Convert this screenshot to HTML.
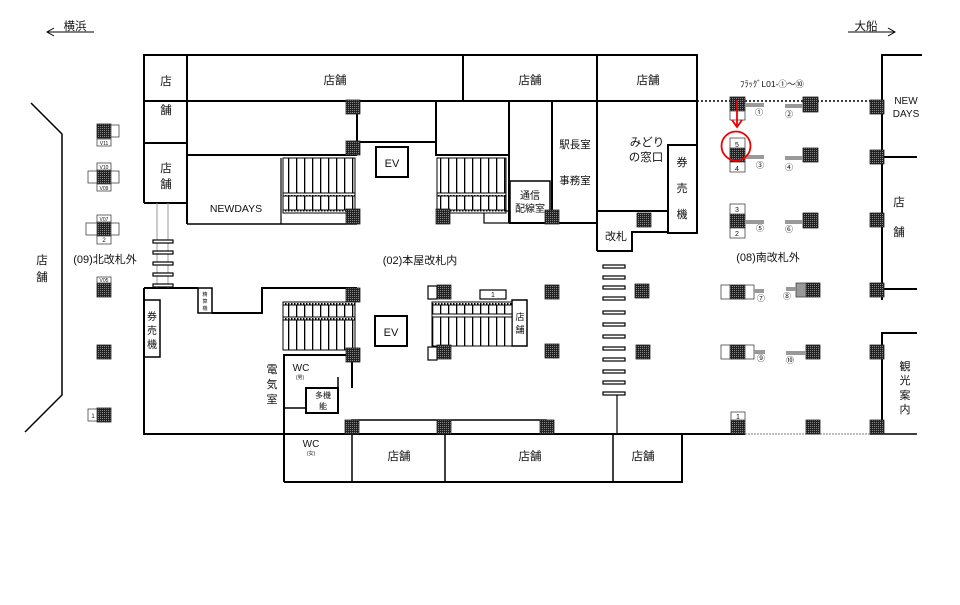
<!DOCTYPE html>
<html><head><meta charset="utf-8"><style>
html,body{margin:0;padding:0;background:#fff}
svg{display:block}
text{font-family:"Liberation Sans","Noto Sans CJK JP",sans-serif;fill:#111}
</style></head><body>
<svg width="960" height="605" viewBox="0 0 960 605" xmlns="http://www.w3.org/2000/svg">
<defs>
<pattern id="pl" width="2" height="2" patternUnits="userSpaceOnUse"><rect width="2" height="2" fill="#222"/><rect width="1" height="1" fill="#888"/></pattern>
<pattern id="st" width="8" height="10" patternUnits="userSpaceOnUse"><rect width="8" height="10" fill="#fff"/><rect x="0" width="1.3" height="10" fill="#000"/></pattern>
<pattern id="dt" width="3" height="3" patternUnits="userSpaceOnUse"><rect width="3" height="3" fill="#fff"/><rect width="1.5" height="1.5" fill="#000"/></pattern>
</defs>
<g stroke="#000" fill="none" stroke-width="2">
<!-- arrows top -->
<line x1="47" y1="32" x2="94" y2="32" stroke-width="1"/><polyline points="54,28 47,32 54,36" stroke-width="1"/>
<line x1="848" y1="32" x2="895" y2="32" stroke-width="1"/><polyline points="888,28 895,32 888,36" stroke-width="1"/>
<!-- left boundary -->
<polyline points="31,103 62,134 62,395 25,432" stroke-width="1.5"/>
<!-- main upper -->
<rect x="144" y="55" width="553" height="46" />
<line x1="144" y1="101" x2="144" y2="203"/>
<line x1="187" y1="55" x2="187" y2="224"/>
<line x1="144" y1="143" x2="187" y2="143"/>
<line x1="144" y1="203" x2="187" y2="203"/>
<line x1="463" y1="55" x2="463" y2="101"/>
<line x1="597" y1="55" x2="597" y2="251"/>
<line x1="697" y1="101" x2="697" y2="233"/>
<line x1="187" y1="155" x2="357" y2="155"/>
<line x1="357" y1="101" x2="357" y2="142"/>
<line x1="357" y1="142" x2="436" y2="142"/>
<rect x="436" y="101" width="73" height="54"/>
<line x1="509" y1="101" x2="509" y2="223"/>
<line x1="552" y1="101" x2="552" y2="223"/>
<line x1="509" y1="223" x2="597" y2="223"/>
<rect x="510" y="181" width="40" height="42" stroke-width="1.5"/>
<rect x="484" y="211" width="26" height="12" stroke-width="1.2"/>
<line x1="187" y1="224" x2="357" y2="224" stroke-width="1.5"/>
<line x1="281" y1="158" x2="281" y2="224" stroke-width="1.2"/>
<!-- right upper boxes -->
<line x1="597" y1="211" x2="668" y2="211"/>
<rect x="668" y="145" width="29" height="88"/>
<polyline points="668,232 632,232 632,251 597,251"/>
<line x1="697" y1="101" x2="880" y2="101" stroke-dasharray="2,2" stroke-width="1.5"/>
<!-- right building -->
<polyline points="922,55 882,55 882,300"/>
<line x1="882" y1="157" x2="917" y2="157"/>
<line x1="882" y1="289" x2="917" y2="289"/>
<polyline points="917,333 882,333 882,434"/>
<!-- lower main -->
<polyline points="144,288 144,434 284,434"/>
<polyline points="144,288 198,288"/>
<rect x="198" y="288" width="14" height="25" stroke-width="1.5"/>
<polyline points="212,313 262,313 262,288 357,288"/>
<rect x="144" y="300" width="16" height="57" stroke-width="1.5"/>
<!-- stairs between -->
<line x1="157" y1="203" x2="157" y2="288" stroke="#999" stroke-width="1"/>
<line x1="168" y1="203" x2="168" y2="288" stroke="#999" stroke-width="1"/>
<!-- WC -->
<polyline points="284,482 284,355 357,355"/>
<line x1="352" y1="355" x2="352" y2="388"/>
<rect x="306" y="388" width="32" height="25"/>
<line x1="338" y1="377" x2="338" y2="388" stroke-width="1.5"/>
<line x1="284" y1="408" x2="306" y2="408" stroke-width="1.5"/>
<polyline points="284,482 682,482 682,434"/>
<line x1="352" y1="434" x2="352" y2="482" stroke-width="1.5"/>
<line x1="445" y1="434" x2="445" y2="482" stroke-width="1.5"/>
<line x1="613" y1="434" x2="613" y2="482" stroke-width="1.5"/>
<line x1="284" y1="434" x2="745" y2="434"/>
<line x1="745" y1="434" x2="870" y2="434" stroke-dasharray="2,1" stroke="#aaa" stroke-width="1.5"/>
<line x1="870" y1="434" x2="917" y2="434" stroke-width="1.5"/>
<rect x="352" y="420" width="194" height="14" stroke-width="1.5"/>
<line x1="617" y1="394" x2="617" y2="434" stroke-width="1.2"/>
<!-- EVs -->
<rect x="376" y="147" width="32" height="30"/>
<rect x="375" y="316" width="32" height="30"/>
<!-- right escalator lower-mid -->
<rect x="512" y="300" width="15" height="46" stroke-width="1.5"/>
<rect x="480" y="290" width="26" height="9" stroke-width="1.2"/>
<rect x="428" y="286" width="9" height="13" stroke-width="1.2"/>
<rect x="428" y="347" width="9" height="13" stroke-width="1.2"/>
</g>
<!-- stair bars left -->
<g fill="#fff" stroke="#000" stroke-width="1.2">
<rect x="153" y="240" width="20" height="3"/><rect x="153" y="251" width="20" height="3"/><rect x="153" y="262" width="20" height="3"/><rect x="153" y="273" width="20" height="3"/><rect x="153" y="284" width="20" height="3"/>
<rect x="603" y="265" width="22" height="3"/><rect x="603" y="276" width="22" height="3"/><rect x="603" y="286" width="22" height="3"/><rect x="603" y="297" width="22" height="3"/><rect x="603" y="311" width="22" height="3"/><rect x="603" y="323" width="22" height="3"/><rect x="603" y="335" width="22" height="3"/><rect x="603" y="347" width="22" height="3"/><rect x="603" y="358" width="22" height="3"/><rect x="603" y="370" width="22" height="3"/><rect x="603" y="381" width="22" height="3"/><rect x="603" y="392" width="22" height="3"/>
</g>
<!-- escalators -->
<g stroke="#000" stroke-width="1">
<rect x="283" y="158" width="72" height="35" fill="url(#st)"/>
<rect x="283" y="193" width="72" height="3" fill="url(#dt)"/>
<rect x="283" y="196" width="72" height="14" fill="url(#st)"/>
<rect x="283" y="210" width="72" height="3" fill="url(#dt)"/>
<rect x="437" y="158" width="69" height="35" fill="url(#st)"/>
<rect x="437" y="193" width="69" height="3" fill="url(#dt)"/>
<rect x="437" y="196" width="69" height="14" fill="url(#st)"/>
<rect x="437" y="210" width="69" height="3" fill="url(#dt)"/>
<rect x="283" y="302" width="72" height="3" fill="url(#dt)"/>
<rect x="283" y="305" width="72" height="12" fill="url(#st)"/>
<rect x="283" y="317" width="72" height="3" fill="url(#dt)"/>
<rect x="283" y="320" width="72" height="30" fill="url(#st)"/>
<rect x="432" y="302" width="80" height="3" fill="url(#dt)"/>
<rect x="432" y="305" width="80" height="9" fill="url(#st)"/>
<rect x="432" y="314" width="80" height="3" fill="#fff"/>
<rect x="432" y="317" width="80" height="29" fill="url(#st)"/>
</g>
<!-- pillars -->
<g fill="url(#pl)" stroke="#222" stroke-width="0.8">
<rect x="97" y="124" width="14" height="14"/><rect x="97" y="170" width="14" height="14"/><rect x="97" y="222" width="14" height="14"/><rect x="97" y="283" width="14" height="14"/><rect x="97" y="345" width="14" height="14"/><rect x="97" y="408" width="14" height="14"/>
<rect x="346" y="100" width="14" height="14"/><rect x="346" y="141" width="14" height="14"/><rect x="346" y="209" width="14" height="15"/><rect x="436" y="209" width="14" height="15"/><rect x="545" y="210" width="14" height="14"/><rect x="637" y="213" width="14" height="14"/>
<rect x="346" y="288" width="14" height="14"/><rect x="346" y="348" width="14" height="14"/><rect x="345" y="420" width="14" height="14"/><rect x="437" y="420" width="14" height="14"/><rect x="540" y="420" width="14" height="14"/>
<rect x="545" y="285" width="14" height="14"/><rect x="545" y="344" width="14" height="14"/><rect x="635" y="284" width="14" height="14"/><rect x="636" y="345" width="14" height="14"/><rect x="437" y="285" width="14" height="14"/><rect x="437" y="345" width="14" height="14"/>
<rect x="730" y="97" width="15" height="14"/><rect x="803" y="97" width="15" height="15"/><rect x="870" y="100" width="14" height="14"/><rect x="870" y="150" width="14" height="14"/><rect x="730" y="148" width="15" height="14"/><rect x="803" y="148" width="15" height="14"/><rect x="730" y="214" width="15" height="14"/><rect x="803" y="213" width="15" height="15"/><rect x="870" y="213" width="14" height="14"/>
<rect x="730" y="285" width="15" height="14"/><rect x="806" y="283" width="14" height="14"/><rect x="870" y="283" width="14" height="14"/><rect x="730" y="345" width="15" height="14"/><rect x="806" y="345" width="14" height="14"/><rect x="870" y="345" width="14" height="14"/><rect x="731" y="420" width="14" height="14"/><rect x="806" y="420" width="14" height="14"/><rect x="870" y="420" width="14" height="14"/>
</g>
<!-- label boxes -->
<g fill="#fff" stroke="#444" stroke-width="0.8">
<rect x="111" y="125" width="8" height="12"/><rect x="97" y="139" width="14" height="7"/>
<rect x="97" y="163" width="14" height="7"/><rect x="97" y="184" width="14" height="7"/><rect x="88" y="171" width="9" height="12"/><rect x="111" y="171" width="8" height="12"/>
<rect x="97" y="215" width="14" height="7"/><rect x="97" y="236" width="14" height="8"/><rect x="86" y="223" width="11" height="12"/><rect x="111" y="223" width="8" height="12"/>
<rect x="97" y="277" width="14" height="6"/><rect x="88" y="409" width="9" height="12"/>
<rect x="730" y="111" width="15" height="9"/><rect x="730" y="138" width="15" height="10"/><rect x="730" y="162" width="15" height="10"/><rect x="730" y="204" width="15" height="10"/><rect x="730" y="228" width="15" height="10"/><rect x="731" y="412" width="14" height="8"/>
<rect x="721" y="285" width="9" height="14"/><rect x="745" y="285" width="9" height="14"/><rect x="796" y="283" width="10" height="14" fill="#999"/>
<rect x="721" y="345" width="9" height="14"/><rect x="745" y="345" width="9" height="14"/>
</g>
<!-- flags -->
<g stroke="#999" stroke-width="4">
<line x1="745" y1="105" x2="764" y2="105"/><line x1="785" y1="106" x2="803" y2="106"/>
<line x1="745" y1="157" x2="764" y2="157"/><line x1="785" y1="158" x2="803" y2="158"/>
<line x1="745" y1="222" x2="764" y2="222"/><line x1="785" y1="222" x2="803" y2="222"/>
<line x1="754" y1="291" x2="764" y2="291"/><line x1="786" y1="289" x2="796" y2="289"/>
<line x1="754" y1="352" x2="765" y2="352"/><line x1="786" y1="353" x2="806" y2="353"/>
</g>
<!-- red -->
<circle cx="736" cy="146" r="14.5" fill="none" stroke="#e00" stroke-width="1.8"/>
<line x1="737" y1="100" x2="737" y2="126" stroke="#e00" stroke-width="1.8"/>
<polyline points="732,120 737,127 742,120" fill="none" stroke="#e00" stroke-width="1.8"/>
<!-- text -->
<g font-size="11.5" text-anchor="middle">
<text x="75" y="30">横浜</text><text x="866" y="30">大船</text>
<text x="166" y="85">店</text><text x="166" y="114">舗</text>
<text x="166" y="172">店</text><text x="166" y="188">舗</text>
<text x="335" y="84">店舗</text><text x="530" y="84">店舗</text><text x="648" y="84">店舗</text>
<text x="236" y="212" font-size="10.5">NEWDAYS</text>
<text x="392" y="167" font-size="11">EV</text><text x="391" y="336" font-size="11">EV</text>
<text x="575" y="148" font-size="10.5">駅長室</text><text x="575" y="184" font-size="10.5">事務室</text>
<text x="530" y="199" font-size="10">通信</text><text x="530" y="212" font-size="10">配線室</text>
<text x="647" y="146" font-size="11.5">みどり</text><text x="646" y="161" font-size="11.5">の窓口</text>
<text x="682" y="166" font-size="11">券</text><text x="682" y="192" font-size="11">売</text><text x="682" y="218" font-size="11">機</text>
<text x="616" y="240" font-size="11">改札</text>
<text x="772" y="87" font-size="8.5" font-style="normal">ﾌﾗｯｸﾞL01-①～⑩</text>
<text x="906" y="104" font-size="10">NEW</text><text x="906" y="117" font-size="10">DAYS</text>
<text x="899" y="206">店</text><text x="899" y="236">舗</text>
<text x="42" y="264">店</text><text x="42" y="281">舗</text>
<text x="105" y="263" font-size="11">(09)北改札外</text>
<text x="420" y="264" font-size="11">(02)本屋改札内</text>
<text x="768" y="261" font-size="11">(08)南改札外</text>
<text x="152" y="320" font-size="10">券</text><text x="152" y="334" font-size="10">売</text><text x="152" y="348" font-size="10">機</text>
<text x="205" y="296" font-size="5">精</text><text x="205" y="303" font-size="5">算</text><text x="205" y="310" font-size="5">機</text>
<text x="272" y="373" font-size="11">電</text><text x="272" y="388" font-size="11">気</text><text x="272" y="403" font-size="11">室</text>
<text x="301" y="371" font-size="10">WC</text><text x="300" y="379" font-size="5">(男)</text>
<text x="323" y="398" font-size="8">多機</text><text x="323" y="409" font-size="8">能</text>
<text x="311" y="447" font-size="10">WC</text><text x="311" y="455" font-size="5">(女)</text>
<text x="399" y="460">店舗</text><text x="530" y="460">店舗</text><text x="643" y="460">店舗</text>
<text x="520" y="320" font-size="9">店</text><text x="520" y="333" font-size="9">舗</text>
<text x="905" y="370" font-size="11">観</text><text x="905" y="384" font-size="11">光</text><text x="905" y="399" font-size="11">案</text><text x="905" y="413" font-size="11">内</text>
</g>
<g font-size="7" text-anchor="middle">
<text x="737" y="147">5</text><text x="737" y="171">4</text><text x="737" y="212">3</text><text x="737" y="236">2</text><text x="738" y="419">1</text><text x="493" y="297">1</text>
<text x="104" y="145" font-size="5">V11</text><text x="104" y="169" font-size="5">V10</text><text x="104" y="190" font-size="5">V09</text><text x="104" y="221" font-size="5">V07</text><text x="104" y="242" font-size="6">2</text><text x="104" y="282" font-size="5">V05</text>
<text x="93" y="418" font-size="6">1</text>
<text x="759" y="115" font-size="8">①</text><text x="789" y="117" font-size="8">②</text>
<text x="760" y="168" font-size="8">③</text><text x="789" y="170" font-size="8">④</text>
<text x="760" y="231" font-size="8">⑤</text><text x="789" y="232" font-size="8">⑥</text>
<text x="761" y="301" font-size="8">⑦</text><text x="787" y="299" font-size="8">⑧</text>
<text x="761" y="361" font-size="8">⑨</text><text x="790" y="363" font-size="8">⑩</text>
</g>
</svg>
</body></html>
